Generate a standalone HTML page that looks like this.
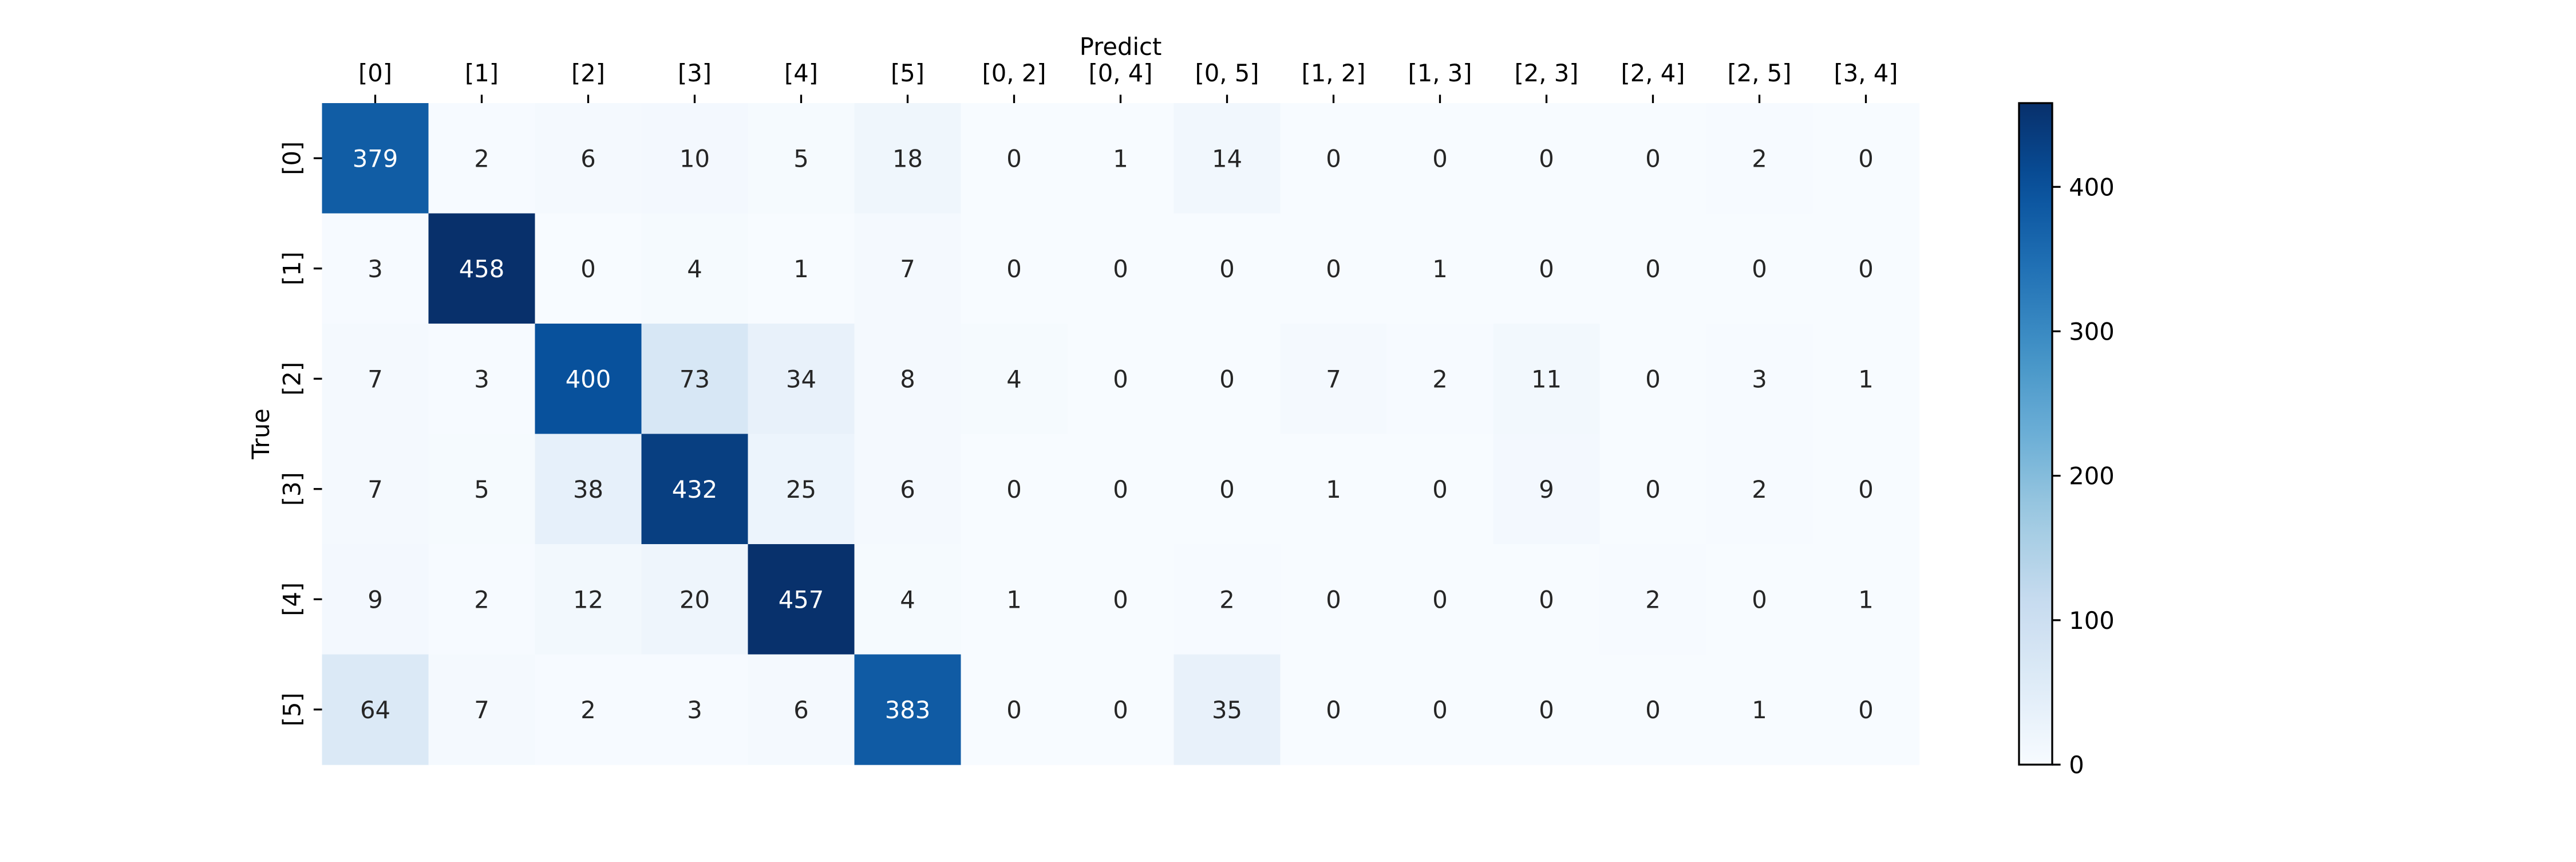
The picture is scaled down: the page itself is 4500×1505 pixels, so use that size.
<!DOCTYPE html>
<html><head><meta charset="utf-8"><style>
html,body{margin:0;padding:0;background:#fff;}
svg text{font-family:"DejaVu Sans","Liberation Sans",sans-serif;}
</style></head><body>
<svg id="chart" width="4500" height="1500" viewBox="0 0 4500 1500" xmlns="http://www.w3.org/2000/svg">
<defs><linearGradient id="cbgrad" x1="0" y1="1" x2="0" y2="0"></linearGradient></defs>
<g id="cells"></g>
<g id="annots"></g>
<g id="xaxis"></g>
<g id="yaxis"></g>
<text x="1957.5" y="96" font-size="41.7" text-anchor="middle">Predict</text>
<text x="470" y="757.5" font-size="41.7" text-anchor="middle" transform="rotate(-90 470 757.5)">True</text>
<g id="cbar"></g>
</svg>
<script>
const xCategories = ["[0]","[1]","[2]","[3]","[4]","[5]","[0, 2]","[0, 4]","[0, 5]","[1, 2]","[1, 3]","[2, 3]","[2, 4]","[2, 5]","[3, 4]"];
const yCategories = ["[0]","[1]","[2]","[3]","[4]","[5]"];
const row0 = [379,2,6,10,5,18,0,1,14,0,0,0,0,2,0];
const row1 = [3,458,0,4,1,7,0,0,0,0,1,0,0,0,0];
const row2 = [7,3,400,73,34,8,4,0,0,7,2,11,0,3,1];
const row3 = [7,5,38,432,25,6,0,0,0,1,0,9,0,2,0];
const row4 = [9,2,12,20,457,4,1,0,2,0,0,0,2,0,1];
const row5 = [64,7,2,3,6,383,0,0,35,0,0,0,0,1,0];
const matrix = [row0,row1,row2,row3,row4,row5];
const colorbarTicks = [0,100,200,300,400];

const NS="http://www.w3.org/2000/svg";
const L=562.5,R=3352.5,T=180,B=1335;
const CBL=3527,CBR=3585;
const vmin=0, vmax=Math.max(...matrix.flat());
const cw=(R-L)/xCategories.length, ch=(B-T)/yCategories.length;
const xPos=i=>L+cw*(i+0.5);
const yPos=j=>T+ch*(j+0.5);
const cbY=v=>B-(v-vmin)/(vmax-vmin)*(B-T);
const stops=["#f7fbff","#deebf7","#c6dbef","#9ecae1","#6baed6","#4292c6","#2171b5","#08519c","#08306b"].map(h=>[parseInt(h.slice(1,3),16),parseInt(h.slice(3,5),16),parseInt(h.slice(5,7),16)]);
function cmap(t){t=Math.max(0,Math.min(1,t));const p=t*(stops.length-1);const i=Math.min(Math.floor(p),stops.length-2);const f=p-i;return stops[i].map((c,k)=>Math.round(c+(stops[i+1][k]-c)*f));}
function lum(c){const l=c.map(v=>{v/=255;return v<=0.03928?v/12.92:Math.pow((v+0.055)/1.055,2.4)});return 0.2126*l[0]+0.7152*l[1]+0.0722*l[2];}
function el(tag,attrs,parent){const e=document.createElementNS(NS,tag);for(const k in attrs)e.setAttribute(k,attrs[k]);parent.appendChild(e);return e;}
const cells=document.getElementById('cells'),ann=document.getElementById('annots');
matrix.forEach((row,j)=>row.forEach((v,i)=>{
  const c=cmap((v-vmin)/(vmax-vmin));
  const r=el('rect',{x:L+cw*i,y:T+ch*j,width:cw+0.6,height:ch+0.6,fill:`rgb(${c})`},cells);
  
  
  const t=el('text',{x:xPos(i),y:yPos(j)+15,'font-size':41.7,'text-anchor':'middle',fill:lum(c)>0.408?'#262626':'#ffffff'},ann);
  
  
  t.textContent=v;
}));
const xa=document.getElementById('xaxis');
xCategories.forEach((s,i)=>{
  const tk=el('line',{x1:xPos(i),x2:xPos(i),y1:T,y2:T-14.6,stroke:'#000','stroke-width':3.3},xa);
  
  
  const t=el('text',{x:xPos(i),y:T-14.6-14.6-9,'font-size':41.7,'text-anchor':'middle'},xa);
  
  
  t.textContent=s;
});
const ya=document.getElementById('yaxis');
yCategories.forEach((s,j)=>{
  const tk=el('line',{x1:L,x2:L-14.6,y1:yPos(j),y2:yPos(j),stroke:'#000','stroke-width':3.3},ya);
  
  
  const x=L-29.2-9;
  const t=el('text',{x:x,y:yPos(j),'font-size':41.7,'text-anchor':'middle',transform:`rotate(-90 ${x} ${yPos(j)})`},ya);
  
  
  t.textContent=s;
});
const g=document.getElementById('cbgrad');
for(let k=0;k<=20;k++){el('stop',{offset:k/20,'stop-color':`rgb(${cmap(k/20)})`},g);}
const cb=document.getElementById('cbar');
const cr=el('rect',{x:CBL,y:T,width:CBR-CBL,height:B-T,fill:'url(#cbgrad)',stroke:'#000','stroke-width':3.3},cb);


colorbarTicks.forEach(v=>{
  const tk=el('line',{x1:CBR,x2:CBR+14.6,y1:cbY(v),y2:cbY(v),stroke:'#000','stroke-width':3.3},cb);
  
  
  const t=el('text',{x:CBR+29.2,y:cbY(v)+15,'font-size':41.7},cb);
  
  
  t.textContent=v;
});
</script>
</body></html>
